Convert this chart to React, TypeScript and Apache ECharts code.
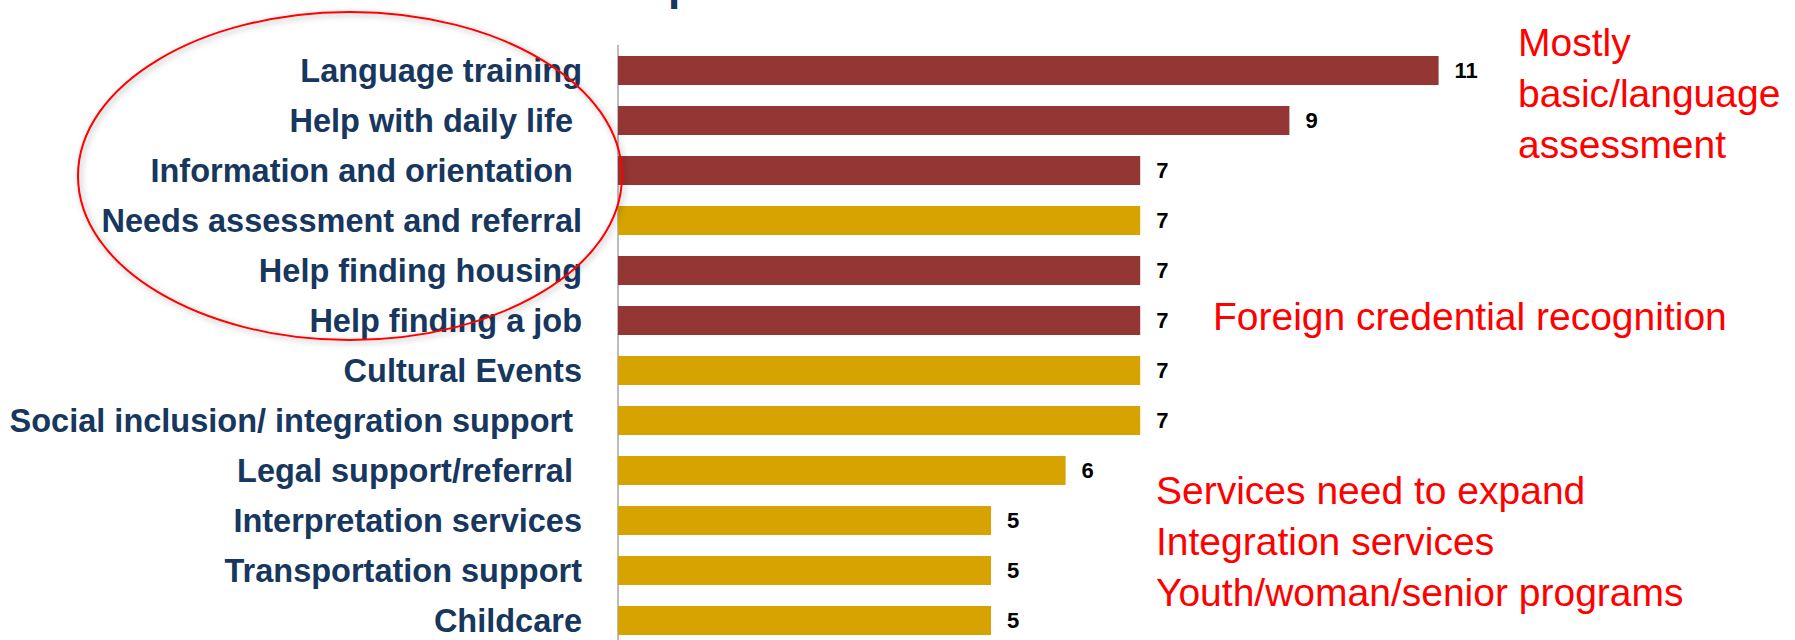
import { useEffect, useRef } from "react";
import * as echarts from "echarts";

const categories = [
  "Language training",
  "Help with daily life ",
  "Information and orientation ",
  "Needs assessment and referral",
  "Help finding housing",
  "Help finding a job",
  "Cultural Events",
  "Social inclusion/ integration support ",
  "Legal support/referral ",
  "Interpretation services",
  "Transportation support",
  "Childcare",
];
const values = [11, 9, 7, 7, 7, 7, 7, 7, 6, 5, 5, 5];
const groups = ["basic", "basic", "basic", "other", "basic", "basic", "other", "other", "other", "other", "other", "other"];
const groupColors: Record<string, string> = { basic: "#943634", other: "#D6A300" };

const noteTop = ["Mostly", "basic/language", "assessment"];
const noteMiddle = ["Foreign credential recognition"];
const noteBottom = ["Services need to expand", "Integration services", "Youth/woman/senior programs"];
const titleFragment = "p";

const FONT = "'Liberation Sans', Arial, sans-serif";

export default function App() {
  const ref = useRef<HTMLDivElement>(null);
  useEffect(() => {
    if (!ref.current) return;
    const chart = echarts.init(ref.current, null, { renderer: "svg" });
    const redText = (lines: string[], x: number, top: number) => ({
      type: "text",
      x,
      y: top,
      z: 100,
      style: {
        text: lines.join("\n"),
        fill: "#FF0000",
        fontSize: 39,
        fontFamily: FONT,
        lineHeight: 51,
        align: "left",
        verticalAlign: "top",
      },
    });
    chart.setOption({
      animation: false,
      backgroundColor: "#FFFFFF",
      grid: {
        left: 618,
        top: 45.5,
        width: 895.2,
        height: 600,
        containLabel: false,
        outerBoundsMode: "none",
      },
      xAxis: { type: "value", min: 0, max: 12, show: false },
      yAxis: {
        type: "category",
        data: categories,
        inverse: true,
        axisLine: { show: true, lineStyle: { color: "#A6A6A6", width: 1.5 } },
        axisTick: { show: false },
        axisLabel: {
          margin: 36,
          color: "#17375E",
          fontWeight: "bold",
          fontSize: 32.5,
          fontFamily: FONT,
        },
        splitLine: { show: false },
      },
      series: [
        {
          type: "bar",
          data: values.map((v, i) => ({ value: v, itemStyle: { color: groupColors[groups[i]] } })),
          barWidth: 29,
          label: {
            show: true,
            position: "right",
            distance: 16,
            color: "#000000",
            fontWeight: "bold",
            fontSize: 22,
            fontFamily: FONT,
          },
        },
      ],
      graphic: [
        {
          type: "ellipse",
          z: 100,
          shape: { cx: 350, cy: 176, rx: 272, ry: 164 },
          style: {
            fill: "none",
            stroke: "#FF0000",
            lineWidth: 2,
            shadowBlur: 6,
            shadowColor: "rgba(0,0,0,0.35)",
            shadowOffsetX: 2,
            shadowOffsetY: 2,
          },
        },
        redText(noteTop, 1518, 17),
        redText(noteMiddle, 1213, 291),
        redText(noteBottom, 1156, 465),
        {
          type: "text",
          x: 668,
          y: 6,
          style: {
            text: titleFragment,
            fill: "#17375E",
            fontSize: 44,
            fontWeight: "bold",
            fontFamily: FONT,
            align: "left",
            verticalAlign: "bottom",
          },
        },
      ],
    });
    return () => chart.dispose();
  }, []);
  return (
    <div
      ref={ref}
      style={{ position: "absolute", left: 0, top: 0, width: 1795, height: 640 }}
    />
  );
}
